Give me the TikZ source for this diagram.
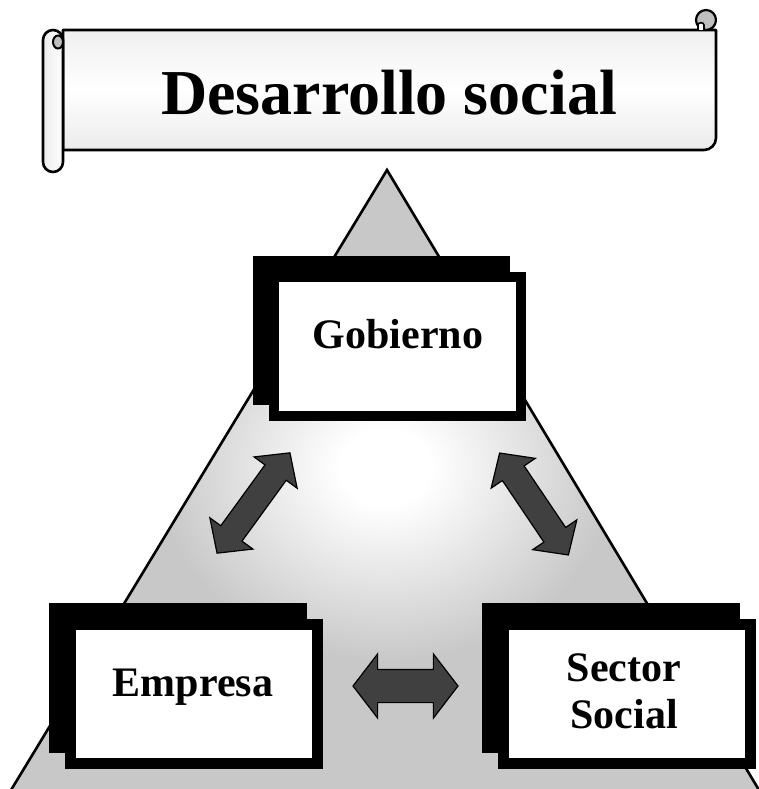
\documentclass[tikz,border=0pt]{standalone}
\usepackage{fontspec}
\setmainfont{Liberation Serif}
\usetikzlibrary{shapes.arrows,shadows}
\definecolor{trigray}{RGB}{200,200,200}
\definecolor{arrowgray}{RGB}{64,64,64}
\definecolor{curlgray}{RGB}{190,190,190}
\pgfdeclareradialshading{trishade}{\pgfpoint{0bp}{1.5bp}}{color(0bp)=(white); color(3bp)=(white); color(15bp)=(trigray); color(50bp)=(trigray)}
\begin{document}
\begin{tikzpicture}[x=1pt,y=-1pt,
  outline/.style={draw=black, line width=2.6pt, line join=round},
  scrollfill/.style={top color=black!6, bottom color=black!8, middle color=white},
  rollfill/.style={left color=black!8, right color=white},
  box/.style={draw=black, fill=white, line width=10.5pt, minimum width=247pt, minimum height=139pt, inner sep=0pt,
    copy shadow={shadow xshift=-16pt, shadow yshift=16pt, fill=black, draw=black, line width=10.5pt}},
  boxtext/.style={font=\bfseries\fontsize{42}{47}\selectfont, align=center, inner sep=0pt, anchor=base},
  dblarrow/.style={double arrow, draw=black, fill=arrowgray, line width=1.2pt, inner xsep=0pt, double arrow head indent=0pt}
]
\useasboundingbox (0,0) rectangle (758,789);

% triangle
\path[shading=trishade, draw=black, line width=2.6pt, line join=miter] (387,170) -- (765,800) -- (5,800) -- cycle;

% scroll body
\path[outline, scrollfill] (63,30) -- (716,30) -- (716,138) .. controls (716,144.6) and (710.6,150) .. (704,150) -- (63,150) -- cycle;
% right curl
\path[outline, fill=curlgray, line width=2.2pt] (706,20) circle[radius=10pt];
\path[draw=black, fill=white, line width=1.6pt] (698,30) -- (698,25) .. controls (698,22) and (704,22) .. (704,25) -- (704,30);
% left roll
\path[outline, rollfill] (43,40) .. controls (43,34.5) and (47.5,30) .. (53,30) .. controls (58.5,30) and (63,34.5) .. (63,40)
  -- (63,162) .. controls (63,167.5) and (58.5,172) .. (53,172) .. controls (47.5,172) and (43,167.5) .. (43,162) -- cycle;
\path[draw=black, fill=curlgray, line width=2pt] (58,42) ellipse[x radius=5pt, y radius=6.5pt];

\node[font=\bfseries\fontsize{64}{70}\selectfont, inner sep=0pt, anchor=base] (title) at (389,115) {Desarrollo social};

% boxes
\node[box] (gob) at (397.5,346.5) {};
\node[box] (emp) at (194,694) {};
\node[box] (sec) at (627,694) {};
\node[boxtext] (gobt) at (398,348) {Gobierno};
\node[boxtext] (empt) at (193,696) {Empresa};
\node[boxtext] (sect) at (624,728) {Sector\\Social};

% arrows
\node[dblarrow, inner ysep=12.5pt, minimum height=124pt, minimum width=52pt, double arrow head extend=13.5pt, double arrow tip angle=95, rotate=54] (a1) at (253.5,503) {};
\node[dblarrow, inner ysep=12.5pt, minimum height=123pt, minimum width=52pt, double arrow head extend=13.5pt, double arrow tip angle=95, rotate=124] (a2) at (534,504) {};
\node[dblarrow, inner ysep=16pt, minimum height=105pt, minimum width=63pt, double arrow head extend=15.5pt, double arrow tip angle=105] (a3) at (405.5,686) {};
\end{tikzpicture}
\end{document}
